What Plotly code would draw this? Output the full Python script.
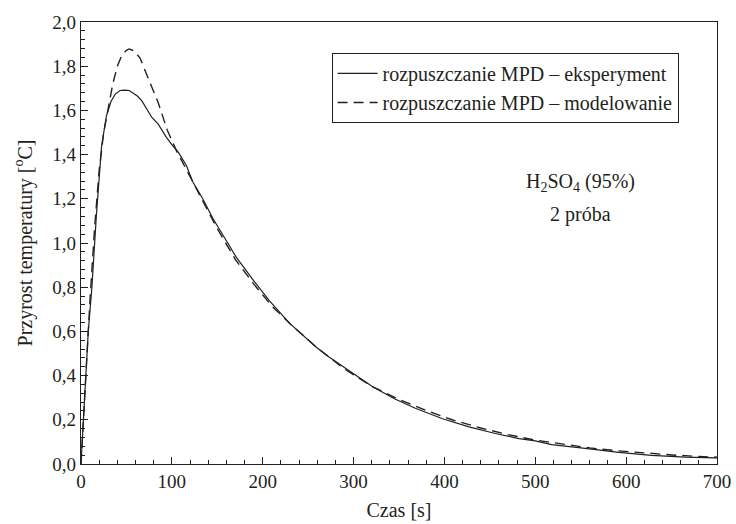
import plotly.graph_objects as go

# Experiment (solid)
t_exp = [0, 2.5, 4.5, 8, 12, 17, 22.7, 28, 33, 38, 43, 48, 53, 57, 62, 67, 72, 78, 85, 90, 94,
         100, 107, 116, 123, 134, 145, 160, 171, 190, 207, 230, 259, 273, 300, 321, 345, 368,
         398, 427, 456, 482, 500, 518, 555, 592, 628, 665, 698, 700]
v_exp = [0.0, 0.185, 0.39, 0.6, 0.8, 1.13, 1.44, 1.575, 1.64, 1.675, 1.69, 1.692, 1.69, 1.68,
         1.665, 1.643, 1.61, 1.568, 1.538, 1.505, 1.478, 1.445, 1.411, 1.351, 1.277, 1.2, 1.112,
         1.01, 0.935, 0.83, 0.74, 0.635, 0.528, 0.484, 0.41, 0.35, 0.295, 0.252, 0.205, 0.168,
         0.138, 0.115, 0.105, 0.088, 0.071, 0.053, 0.039, 0.031, 0.028, 0.028]

# Model (dashed)
t_mod = [0, 3, 6, 10, 15, 20, 25, 30, 35, 40, 45, 50, 53, 58, 65, 75, 85, 95, 105, 115, 130,
         150, 170, 190, 210, 230, 260, 290, 320, 350, 380, 410, 440, 470, 500, 530, 560, 590,
         620, 650, 680, 700]
v_mod = [0.0, 0.2, 0.45, 0.75, 1.07, 1.33, 1.5, 1.61, 1.72, 1.8, 1.85, 1.872, 1.878, 1.87,
         1.837, 1.735, 1.635, 1.51, 1.418, 1.34, 1.22, 1.065, 0.925, 0.815, 0.715, 0.635, 0.525,
         0.43, 0.352, 0.292, 0.242, 0.198, 0.163, 0.133, 0.108, 0.089, 0.073, 0.06, 0.049,
         0.041, 0.034, 0.031]

x_ticks = [0, 100, 200, 300, 400, 500, 600, 700]
y_ticks = [0.0, 0.2, 0.4, 0.6, 0.8, 1.0, 1.2, 1.4, 1.6, 1.8, 2.0]
y_labels = ["0,0", "0,2", "0,4", "0,6", "0,8", "1,0", "1,2", "1,4", "1,6", "1,8", "2,0"]

FONT = "Liberation Serif"
INK = "#231f20"

fig = go.Figure()
fig.add_trace(go.Scatter(x=t_exp, y=v_exp, mode="lines",
                         name="rozpuszczanie MPD – eksperyment",
                         line=dict(color=INK, width=1.2)))
fig.add_trace(go.Scatter(x=t_mod, y=v_mod, mode="lines",
                         name="rozpuszczanie MPD – modelowanie",
                         line=dict(color=INK, width=1.4, dash="10px,6px")))

fig.update_layout(
    width=736, height=524,
    margin=dict(l=81, r=19, t=22, b=60),
    paper_bgcolor="white", plot_bgcolor="white",
    font=dict(family=FONT, size=19, color=INK),
    showlegend=True,
    legend=dict(x=0.394, y=0.93, xanchor="left", yanchor="top",
                bordercolor=INK, borderwidth=1, bgcolor="white",
                font=dict(family=FONT, size=20, color=INK),
                tracegroupgap=0, itemwidth=40),
    annotations=[
        dict(x=550, y=1.275, xref="x", yref="y", showarrow=False,
             text="H<sub>2</sub>SO<sub>4</sub> (95%)", font=dict(family=FONT, size=20, color=INK)),
        dict(x=550, y=1.13, xref="x", yref="y", showarrow=False,
             text="2 próba", font=dict(family=FONT, size=20, color=INK)),
    ],
)

fig.update_xaxes(range=[0, 700], tickvals=x_ticks, ticktext=[str(v) for v in x_ticks],
                 ticks="inside", ticklen=7, tickwidth=1, tickcolor=INK,
                 minor=dict(dtick=20, ticks="inside", ticklen=4, tickcolor=INK, tickwidth=1),
                 showline=True, linecolor=INK, linewidth=1.2, mirror=True,
                 showgrid=False, zeroline=False, automargin=False,
                 title=dict(text="Czas [s]", font=dict(family=FONT, size=20, color=INK), standoff=12),
                 tickfont=dict(family=FONT, size=19, color=INK))
fig.update_yaxes(range=[0, 2.0], tickvals=y_ticks, ticktext=y_labels,
                 ticks="inside", ticklen=7, tickwidth=1, tickcolor=INK,
                 minor=dict(dtick=0.04, ticks="inside", ticklen=4, tickcolor=INK, tickwidth=1),
                 showline=True, linecolor=INK, linewidth=1.2, mirror=True,
                 showgrid=False, zeroline=False, automargin=False,
                 title=dict(text="Przyrost temperatury [<sup>o</sup>C]",
                            font=dict(family=FONT, size=20, color=INK), standoff=14),
                 tickfont=dict(family=FONT, size=19, color=INK))

fig.write_html("out.html")
